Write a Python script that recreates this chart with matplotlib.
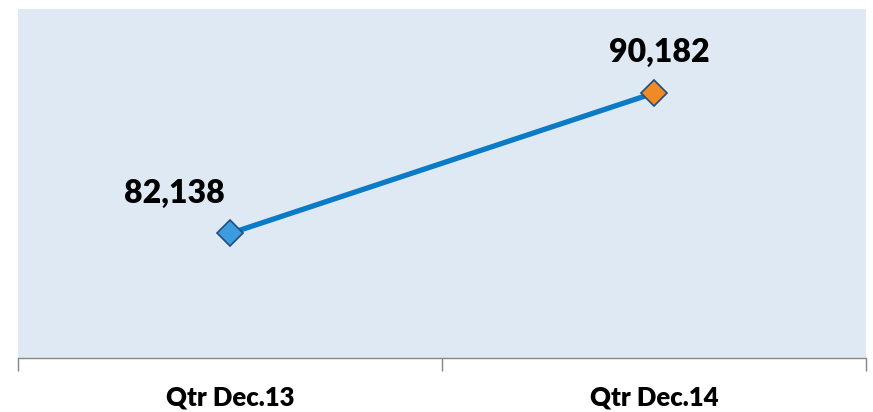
import matplotlib.pyplot as plt

categories = ["Qtr Dec.13", "Qtr Dec.14"]
values = [82138, 90182]
value_labels = ["82,138", "90,182"]
marker_colors = ["#3d9be0", "#f08a24"]

plt.rcParams["font.family"] = ["Lato", "DejaVu Sans"]

fig = plt.figure(figsize=(8.73, 4.12), dpi=100)
ax = fig.add_axes([18 / 873, 1 - 358 / 412, 848 / 873, 349 / 412])
ax.set_facecolor("#dfe9f4")

x = [0.5, 1.5]
ax.plot(x, values, color="#0b7bc6", lw=3.8, solid_capstyle="butt", zorder=2)
for xi, v, c in zip(x, values, marker_colors):
    ax.plot(xi, v, marker="D", ms=13, mfc=c, mec="#1f4f7a", mew=1.2, zorder=3)

# value labels
ax.annotate(value_labels[0], (x[0], values[0]), xytext=(-40, 29), textcoords="offset points",
            ha="center", va="center", fontsize=23, fontweight="heavy")
ax.annotate(value_labels[1], (x[1], values[1]), xytext=(4, 29), textcoords="offset points",
            ha="center", va="center", fontsize=23, fontweight="heavy")

ax.set_xlim(0, 2)
ax.set_ylim(75000, 95000)
ax.set_yticks([])
ax.set_xticks([0, 1, 2])
ax.set_xticklabels([])
ax.set_xticks(x, minor=True)
ax.set_xticklabels(categories, minor=True, fontsize=18.5, fontweight="heavy")
ax.tick_params(axis="x", which="major", length=9, width=1, color="#868686")
ax.tick_params(axis="x", which="minor", length=0, pad=20)

for side in ["top", "left", "right"]:
    ax.spines[side].set_visible(False)
ax.spines["bottom"].set_color("#868686")
ax.spines["bottom"].set_linewidth(1)

fig.savefig("out.png", dpi=100)
